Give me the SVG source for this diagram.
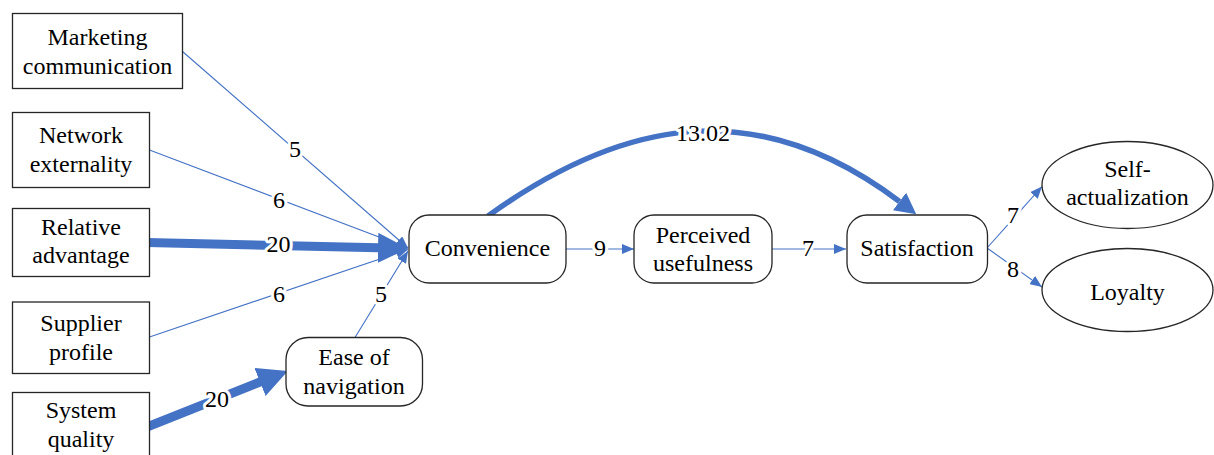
<svg xmlns="http://www.w3.org/2000/svg" width="1214" height="455" viewBox="0 0 1214 455" font-family="Liberation Serif, Times New Roman, serif">
<style>
.box{fill:#fff;stroke:#262626;stroke-width:1.3}
.t{font-size:24px;fill:#000;text-anchor:middle}
.lbl{font-size:24px;fill:#000;text-anchor:middle;stroke:#fff;stroke-width:6;paint-order:stroke;stroke-linejoin:round}
.thin{fill:none;stroke:#4472C4;stroke-width:1.1}
.thick{fill:none;stroke:#4472C4;stroke-width:9;stroke-linecap:round}
.mid{fill:none;stroke:#4472C4;stroke-width:5.5}
</style>
<defs>
<marker id="aThin" markerUnits="userSpaceOnUse" markerWidth="12" markerHeight="10" viewBox="0 0 12 10" refX="12" refY="5" orient="auto"><path d="M0,0 L12,5 L0,10 Z" fill="#4472C4"/></marker>
<marker id="aThick" markerUnits="userSpaceOnUse" markerWidth="30" markerHeight="30" viewBox="0 0 30 30" refX="0" refY="15" orient="auto"><path d="M0,0 L30,15 L0,30 Z" fill="#4472C4"/></marker>
<marker id="aMid" markerUnits="userSpaceOnUse" markerWidth="21" markerHeight="22" viewBox="0 0 21 22" refX="0" refY="11" orient="auto"><path d="M0,0 L21,11 L0,22 Z" fill="#4472C4"/></marker>
</defs>
<rect width="1214" height="455" fill="#fff"/>
<g id="connectors">
<path class="thin" d="M182.5,51.5 L408,248" marker-end="url(#aThin)"/>
<path class="thin" d="M149.5,150 L408,248" marker-end="url(#aThin)"/>
<path class="thin" d="M149.5,337 L408,249.5" marker-end="url(#aThin)"/>
<path class="thin" d="M355,337.5 L408,251" marker-end="url(#aThin)"/>
<path class="thick" d="M147,242.5 L378,247.8" marker-end="url(#aThick)"/>
<path class="thick" d="M147,427 L260,382" marker-end="url(#aThick)"/>
<path class="thin" d="M566,249 L634,249" marker-end="url(#aThin)"/>
<path class="thin" d="M772,249 L846,249" marker-end="url(#aThin)"/>
<path class="mid" d="M488,216 C637.85,107.8 768.3,102.7 899.5,201.5" marker-end="url(#aMid)"/>
<path class="thin" d="M987,248 L1042,186.5" marker-end="url(#aThin)"/>
<path class="thin" d="M987,248 L1042,287" marker-end="url(#aThin)"/>
<text class="lbl" x="295" y="157">5</text>
<text class="lbl" x="279" y="208">6</text>
<text class="lbl" x="278.5" y="252">20</text>
<text class="lbl" x="279" y="302">6</text>
<text class="lbl" x="381" y="302">5</text>
<text class="lbl" x="217" y="407">20</text>
<text class="lbl" x="600" y="256">9</text>
<text class="lbl" x="808" y="256">7</text>
<text class="lbl" x="703" y="140.5">13.02</text>
<text class="lbl" x="1013" y="223">7</text>
<text class="lbl" x="1013" y="277">8</text>
</g>
<g id="marketing-communication">
<rect class="box" x="12.5" y="13.5" width="170" height="75"/>
<text class="t" x="97.5" y="45">Marketing</text>
<text class="t" x="97.5" y="73.5">communication</text>
</g>
<g id="network-externality">
<rect class="box" x="12.5" y="112.5" width="137" height="75"/>
<text class="t" x="81" y="143">Network</text>
<text class="t" x="81" y="172">externality</text>
</g>
<g id="relative-advantage">
<rect class="box" x="12.5" y="208.5" width="137" height="68"/>
<text class="t" x="81" y="235">Relative</text>
<text class="t" x="81" y="263">advantage</text>
</g>
<g id="supplier-profile">
<rect class="box" x="12.5" y="302" width="137" height="71.5"/>
<text class="t" x="81" y="331">Supplier</text>
<text class="t" x="81" y="359.5">profile</text>
</g>
<g id="system-quality">
<rect class="box" x="12.5" y="392.5" width="137" height="80"/>
<text class="t" x="81" y="418">System</text>
<text class="t" x="81" y="447">quality</text>
</g>
<g id="ease-of-navigation">
<rect class="box" x="286" y="337.5" width="136.5" height="68.5" rx="22" ry="22"/>
<text class="t" x="354" y="365">Ease of</text>
<text class="t" x="354" y="393.5">navigation</text>
</g>
<g id="convenience">
<rect class="box" x="409" y="215" width="157" height="68" rx="20" ry="20"/>
<text class="t" x="487.5" y="256">Convenience</text>
</g>
<g id="perceived-usefulness">
<rect class="box" x="634" y="215" width="138" height="68" rx="20" ry="20"/>
<text class="t" x="703" y="242.5">Perceived</text>
<text class="t" x="703" y="271">usefulness</text>
</g>
<g id="satisfaction">
<rect class="box" x="847" y="215" width="140.5" height="68" rx="20" ry="20"/>
<text class="t" x="917" y="256">Satisfaction</text>
</g>
<g id="self-actualization">
<ellipse class="box" cx="1127.5" cy="185" rx="85.5" ry="43.5"/>
<text class="t" x="1127.5" y="177">Self-</text>
<text class="t" x="1127.5" y="205">actualization</text>
</g>
<g id="loyalty">
<ellipse class="box" cx="1127.5" cy="290" rx="85.5" ry="41.5"/>
<text class="t" x="1127.5" y="300">Loyalty</text>
</g>
</svg>
